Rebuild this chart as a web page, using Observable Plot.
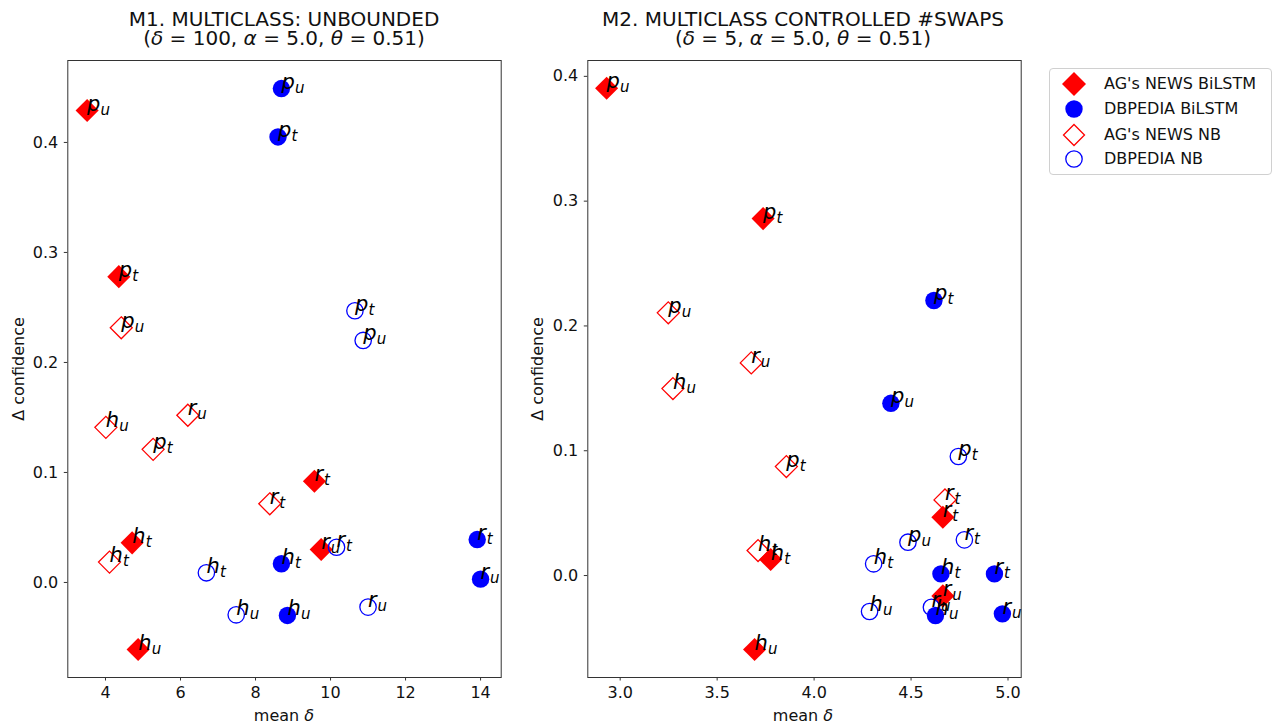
<!DOCTYPE html>
<html><head><meta charset="utf-8">
<script src="https://cdn.jsdelivr.net/npm/d3@7"></script>
<script src="https://cdn.jsdelivr.net/npm/@observablehq/plot@0.6"></script>
<style>
body{margin:0;background:#fff;font-family:"DejaVu Sans",sans-serif;color:#111;}
#wrap{position:relative;width:1273px;height:728px;overflow:hidden;background:#fff;}
.t{position:absolute;white-space:nowrap;text-align:center;}
.title{font-size:20px;line-height:19px;width:520px;}
.xl{font-size:16px;line-height:16px;width:300px;}
.yl{font-size:16px;line-height:16px;width:300px;transform:rotate(-90deg);transform-origin:center center;}
#legend{position:absolute;left:1049px;top:68px;width:221px;height:105px;border:1px solid #d0d0d0;border-radius:4px;background:#fff;}
.li{position:absolute;left:0;height:24px;width:221px;}
.li svg{position:absolute;left:12px;top:0;}
.li span{position:absolute;left:54px;top:2px;font-size:16px;line-height:20px;white-space:nowrap;}
</style></head><body><div id="wrap"></div>
<script>
// ---- data ----
const metrics = ["p_u", "p_t", "r_u", "r_t", "h_u", "h_t"];
const seriesNames = ["AG's NEWS BiLSTM", "DBPEDIA BiLSTM", "AG's NEWS NB", "DBPEDIA NB"];

// M1. MULTICLASS: UNBOUNDED
const m1AgBilstmX = [3.51, 4.355, 9.75, 9.57, 4.87, 4.71];
const m1AgBilstmY = [0.429, 0.278, 0.030, 0.092, -0.061, 0.036];
const m1DbBilstmX = [8.69, 8.60, 14.0, 13.91, 8.85, 8.69];
const m1DbBilstmY = [0.449, 0.405, 0.003, 0.039, -0.030, 0.017];
const m1AgNbX = [4.42, 5.27, 6.195, 8.38, 4.01, 4.107];
const m1AgNbY = [0.2315, 0.121, 0.152, 0.0715, 0.141, 0.0185];
const m1DbNbX = [10.87, 10.65, 11.0, 10.16, 7.485, 6.69];
const m1DbNbY = [0.220, 0.247, -0.0224, 0.032, -0.0294, 0.0088];

// M2. MULTICLASS CONTROLLED #SWAPS
const m2AgBilstmX = [2.930, 3.737, 4.664, 4.664, 3.693, 3.776];
const m2AgBilstmY = [0.3905, 0.286, -0.0163, 0.0467, -0.0593, 0.0128];
const m2DbBilstmX = [4.396, 4.618, 4.971, 4.93, 4.626, 4.654];
const m2DbBilstmY = [0.138, 0.2204, -0.0307, 0.0013, -0.032, 0.0013];
const m2AgNbX = [3.248, 3.857, 3.676, 4.675, 3.272, 3.711];
const m2AgNbY = [0.2105, 0.0873, 0.1704, 0.0606, 0.1498, 0.020];
const m2DbNbX = [4.484, 4.744, 4.605, 4.775, 4.286, 4.307];
const m2DbNbY = [0.0267, 0.0954, -0.0254, 0.0286, -0.0288, 0.0094];

const m1XTicks = [4, 6, 8, 10, 12, 14];
const m2XTicks = [3.0, 3.5, 4.0, 4.5, 5.0];
const yTicks = [0.0, 0.1, 0.2, 0.3, 0.4];

// ---- build ----
function rows(xs, ys) {
  const out = [];
  xs.forEach((X, s) => metrics.forEach((m, j) => {
    out.push({s, x: X[j], y: ys[s][j], letter: m[0], sub: m[2]});
  }));
  return out;
}
const m1Rows = rows([m1AgBilstmX, m1DbBilstmX, m1AgNbX, m1DbNbX], [m1AgBilstmY, m1DbBilstmY, m1AgNbY, m1DbNbY]);
const m2Rows = rows([m2AgBilstmX, m2DbBilstmX, m2AgNbX, m2DbNbX], [m2AgBilstmY, m2DbBilstmY, m2AgNbY, m2DbNbY]);

const dotStyles = [
  {symbol: "diamond2", fill: "#ff0000", r: 10.4},
  {symbol: "circle", fill: "#0000ff", r: 8.7},
  {symbol: "diamond2", fill: "none", stroke: "#ff0000", strokeWidth: 1.3, r: 9.9},
  {symbol: "circle", fill: "none", stroke: "#0000ff", strokeWidth: 1.3, r: 8.2}
];

function panel(data, xDomain, xTicks, xFmt, yDomain) {
  const marks = [Plot.frame({stroke: "#333"})];
  marks.push(Plot.axisX({ticks: xTicks, tickFormat: xFmt, tickSize: 3.5, tickPadding: 6, label: null, stroke: "#333"}));
  marks.push(Plot.axisY({ticks: yTicks, tickFormat: d3.format(".1f"), tickSize: 3.5, tickPadding: 6, label: null, stroke: "#333"}));
  dotStyles.forEach((st, i) => marks.push(Plot.dot(data.filter(d => d.s === i), {x: "x", y: "y", ...st})));
  marks.push(Plot.text(data, {x: "x", y: "y", text: "letter", textAnchor: "start", lineAnchor: "bottom", fontStyle: "italic", fontSize: 21, fill: "#000"}));
  marks.push(Plot.text(data.filter(d => d.letter !== "r"), {x: "x", y: "y", text: "sub", textAnchor: "start", lineAnchor: "bottom", fontStyle: "italic", fontSize: 15, dx: 13.5, dy: 4, fill: "#000"}));
  marks.push(Plot.text(data.filter(d => d.letter === "r"), {x: "x", y: "y", text: "sub", textAnchor: "start", lineAnchor: "bottom", fontStyle: "italic", fontSize: 15, dx: 9.5, dy: 4, fill: "#000"}));
  return Plot.plot({
    width: 520, height: 728,
    marginLeft: 67.3, marginRight: 19.3, marginTop: 60, marginBottom: 51,
    x: {domain: xDomain, nice: false},
    y: {domain: yDomain, nice: false},
    style: {fontFamily: "DejaVu Sans", fontSize: "16px", color: "#111", background: "transparent", overflow: "visible"},
    marks
  });
}

const wrap = document.getElementById("wrap");
const p1 = panel(m1Rows, [2.995, 14.55], m1XTicks, d3.format("d"), [-0.0864, 0.4745]);
p1.style.position = "absolute"; p1.style.left = "0px"; p1.style.top = "0px";
wrap.appendChild(p1);
const p2 = panel(m2Rows, [2.833, 5.068], m2XTicks, d3.format(".1f"), [-0.0817, 0.4127]);
p2.style.position = "absolute"; p2.style.left = "520px"; p2.style.top = "0px";
wrap.appendChild(p2);

function addText(cls, html, left, top) {
  const d = document.createElement("div");
  d.className = "t " + cls; d.innerHTML = html;
  d.style.left = left + "px"; d.style.top = top + "px";
  wrap.appendChild(d);
}
addText("title", "M1. MULTICLASS: UNBOUNDED<br>(<i>δ</i> = 100, <i>α</i> = 5.0, <i>θ</i> = 0.51)", 284 - 260, 10.3);
addText("title", "M2. MULTICLASS CONTROLLED #SWAPS<br>(<i>δ</i> = 5, <i>α</i> = 5.0, <i>θ</i> = 0.51)", 803 - 260, 10.3);
addText("xl", "mean <i>δ</i>", 284 - 150, 708);
addText("xl", "mean <i>δ</i>", 803 - 150, 708);
addText("yl", "Δ confidence", 19 - 150, 368.5 - 8);
addText("yl", "Δ confidence", 538 - 150, 368.5 - 8);

// legend
const leg = document.createElement("div"); leg.id = "legend"; wrap.appendChild(leg);
const rowsY = [84, 109.3, 134.7, 158.7];
const swatches = [
  '<polygon points="12,0 24,12 12,24 0,12" fill="#ff0000"/>',
  '<circle cx="12" cy="12" r="8.7" fill="#0000ff"/>',
  '<polygon points="12,1.5 22.5,12 12,22.5 1.5,12" fill="none" stroke="#ff0000" stroke-width="1.3"/>',
  '<circle cx="12" cy="12" r="8.2" fill="none" stroke="#0000ff" stroke-width="1.3"/>'
];
seriesNames.forEach((name, i) => {
  const li = document.createElement("div"); li.className = "li";
  li.style.top = (rowsY[i] - 69 - 12) + "px";
  li.innerHTML = `<svg width="24" height="24">${swatches[i]}</svg><span>${name}</span>`;
  leg.appendChild(li);
});
</script></body></html>
